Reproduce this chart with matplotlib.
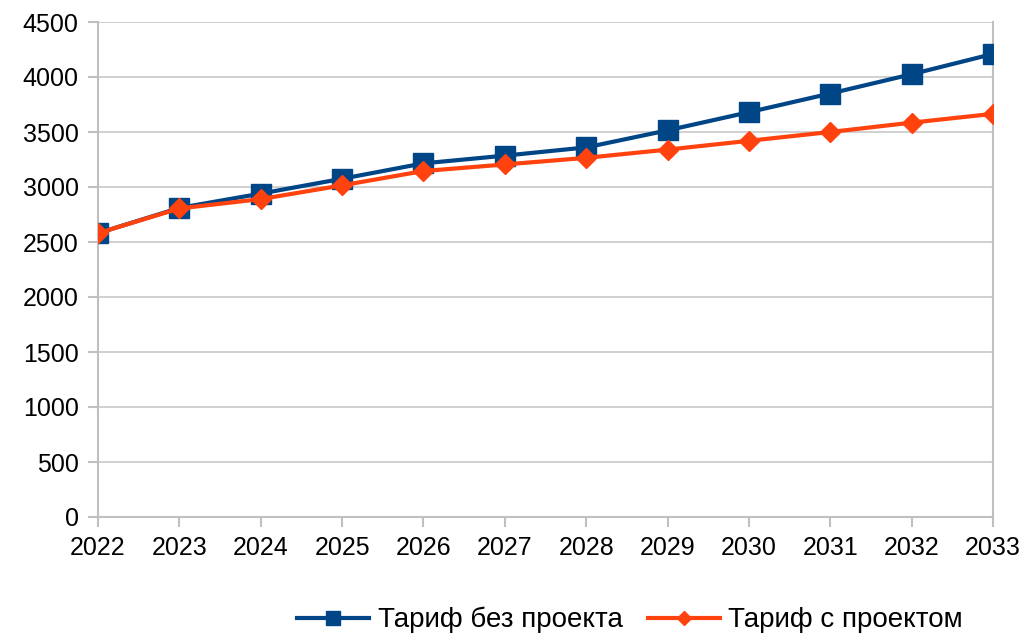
import matplotlib.pyplot as plt

years = [2022, 2023, 2024, 2025, 2026, 2027, 2028, 2029, 2030, 2031, 2032, 2033]
tariff_no_project = [2580, 2810, 2940, 3075, 3215, 3285, 3360, 3515, 3680, 3850, 4025, 4210]
tariff_with_project = [2580, 2805, 2890, 3015, 3145, 3205, 3265, 3340, 3420, 3500, 3585, 3665]
labels = ["Тариф без проекта", "Тариф с проектом"]

plt.rcParams['font.family'] = ['Liberation Sans', 'DejaVu Sans']

fig = plt.figure(figsize=(10.33, 6.34), dpi=100)
ax = fig.add_axes([98 / 1033, 1 - 517 / 634, (993 - 98) / 1033, (517 - 22) / 634])

ax.plot(years, tariff_no_project, color='#004586', lw=3, marker='s', ms=14,
        label=labels[0], zorder=3)
ax.plot(years, tariff_with_project, color='#ff420e', lw=3, marker='D', ms=10,
        label=labels[1], zorder=4)

ax.set_xlim(2022, 2033)
ax.set_ylim(0, 4500)
ax.set_xticks(years)
ax.set_yticks(range(0, 4501, 500))
ax.grid(axis='y', color='#c8c8c8', lw=1.2)
ax.set_axisbelow(True)
ax.spines['top'].set_visible(False)
for s in ['left', 'right', 'bottom']:
    ax.spines[s].set_color('#c0c0c0')
    ax.spines[s].set_linewidth(1.5)
ax.tick_params(axis='both', colors='#c0c0c0', labelcolor='black', labelsize=18,
               length=7, width=1.5)
ax.tick_params(axis='x', pad=7)
ax.tick_params(axis='y', pad=7)

fig.legend(loc='center', bbox_to_anchor=(630 / 1033, 1 - 620 / 634), ncol=2,
           frameon=False, fontsize=20, handlelength=2.6, columnspacing=0.9,
           handletextpad=0.3, markerscale=0.75)

fig.savefig('out.png', dpi=100)
